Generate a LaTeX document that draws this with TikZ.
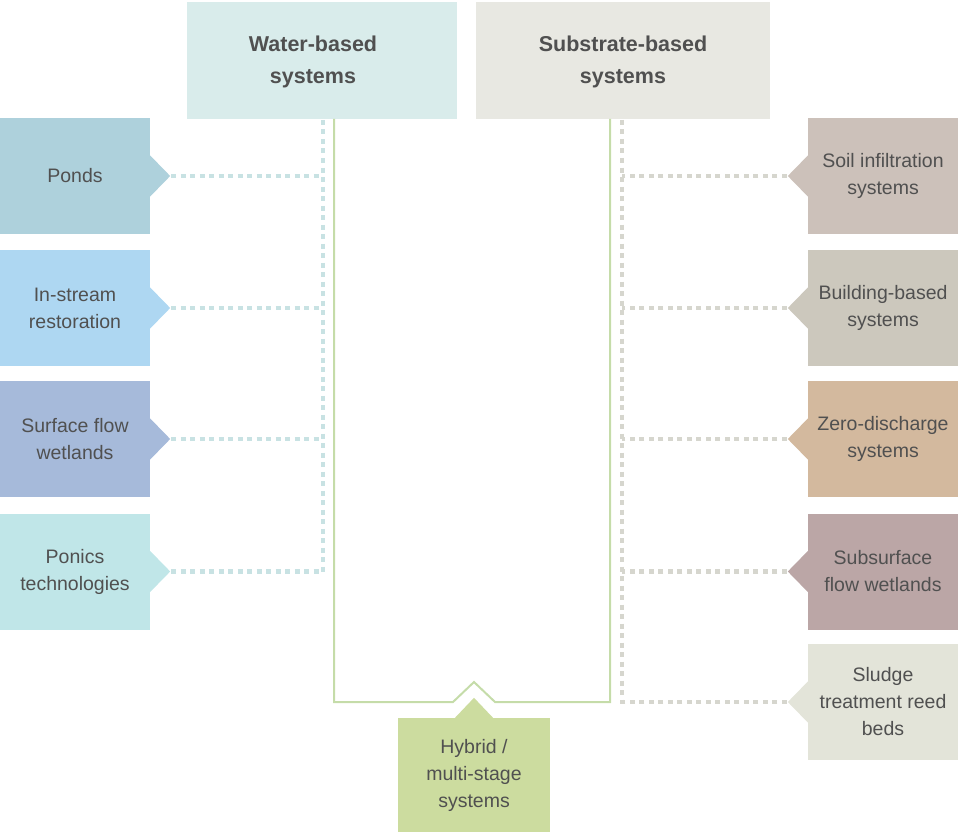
\documentclass[tikz,border=0pt]{standalone}
\usepackage{fontspec}
\setmainfont{Liberation Sans}
\usetikzlibrary{calc}
\definecolor{txt}{HTML}{505050}
\definecolor{cwater}{HTML}{D9ECEB}
\definecolor{csub}{HTML}{E8E8E2}
\definecolor{cponds}{HTML}{AED1DC}
\definecolor{cstream}{HTML}{AED7F2}
\definecolor{csurf}{HTML}{A6BADA}
\definecolor{cponics}{HTML}{C0E6E8}
\definecolor{csoil}{HTML}{CCC1BA}
\definecolor{cbuild}{HTML}{CCC8BD}
\definecolor{czero}{HTML}{D3B99E}
\definecolor{csubsurf}{HTML}{BBA6A6}
\definecolor{csludge}{HTML}{E3E4D9}
\definecolor{chyb}{HTML}{CCDC9F}
\definecolor{cgline}{HTML}{C5DCA9}
\definecolor{cldot}{HTML}{C8E2E3}
\definecolor{crdot}{HTML}{D6D6CE}
\tikzset{
  box/.style={rectangle, inner sep=0pt, minimum width=150pt, minimum height=116pt,
    align=center, text=txt, font=\fontsize{19.5}{27}\selectfont},
  hbox/.style={rectangle, inner sep=0pt, minimum height=117pt, text=txt},
  htext/.style={align=center, text=txt, font=\bfseries\fontsize{21.5}{32}\selectfont},
  ldots/.style={draw=cldot, line width=4.5pt, dash pattern=on 5pt off 4.5pt},
  rdots/.style={draw=crdot, line width=4.5pt, dash pattern=on 5pt off 4.5pt},
  gline/.style={draw=cgline, line width=2pt},
}
\begin{document}
\begin{tikzpicture}[x=1pt,y=-1pt]
\useasboundingbox (0,0) rectangle (961,832);

% headers
\node[hbox, fill=cwater, minimum width=270pt] (wb) at (322,60.5) {};
\node[htext] (wbt) at (313,62) {Water-based\\systems};
\node[hbox, fill=csub, minimum width=294pt] (sb) at (623,60.5) {};
\node[htext] (sbt) at (623,62) {Substrate-based\\systems};

% green outline
\coordinate (gl) at (334,119);
\coordinate (gr) at (610,119);
\coordinate (nl) at (453,702);
\coordinate (np) at (474,682);
\coordinate (nr) at (495,702);
\draw[gline] (gl) |- (nl) -- (np) -- (nr) -| (gr);

% dotted vertical lines
\coordinate (lvtop) at (323,120);
\coordinate (lvbot) at (323,572);
\coordinate (rvtop) at (622,120);
\coordinate (rvbot) at (622,704);
\draw[ldots] (lvtop) -- (lvbot);
\draw[rdots] (rvtop) -- (rvbot);

% left boxes
\node[box, fill=cponds] (ponds) at (75,176) {Ponds};
\node[box, fill=cstream] (stream) at (75,308) {In-stream\\restoration};
\node[box, fill=csurf] (surf) at (75,439) {Surface flow\\wetlands};
\node[box, fill=cponics] (ponics) at (75,571.5) {Ponics\\technologies};

\foreach \n/\c in {ponds/cponds, stream/cstream, surf/csurf, ponics/cponics}{
  \fill[\c] ($(\n.east)+(-0.5,-21)$) -- ($(\n.east)+(20,0)$) -- ($(\n.east)+(-0.5,21)$) -- cycle;
  \coordinate (\n tip) at ($(\n.east)+(21,0)$);
  \draw[ldots] (\n tip) -- (\n tip -| lvtop);
}

% right boxes
\node[box, fill=csoil] (soil) at (883,176) {Soil infiltration\\systems};
\node[box, fill=cbuild] (build) at (883,308) {Building-based\\systems};
\node[box, fill=czero] (zero) at (883,439) {Zero-discharge\\systems};
\node[box, fill=csubsurf] (subsurf) at (883,571.5) {Subsurface\\flow wetlands};
\node[box, fill=csludge] (sludge) at (883,702) {Sludge\\treatment reed\\beds};

\foreach \n/\c in {soil/csoil, build/cbuild, zero/czero, subsurf/csubsurf, sludge/csludge}{
  \fill[\c] ($(\n.west)+(0.5,-21)$) -- ($(\n.west)+(-20,0)$) -- ($(\n.west)+(0.5,21)$) -- cycle;
  \coordinate (\n tip) at ($(\n.west)+(-21,0)$);
  \draw[rdots] (\n tip) -- (\n tip -| rvtop);
}

% hybrid
\node[box, fill=chyb, minimum width=152pt, minimum height=114pt] (hyb) at (474,775) {Hybrid /\\multi-stage\\systems};
\fill[chyb] ($(hyb.north)+(-19.5,0.5)$) -- ($(hyb.north)+(0,-20)$) -- ($(hyb.north)+(19.5,0.5)$) -- cycle;
\end{tikzpicture}
\end{document}
